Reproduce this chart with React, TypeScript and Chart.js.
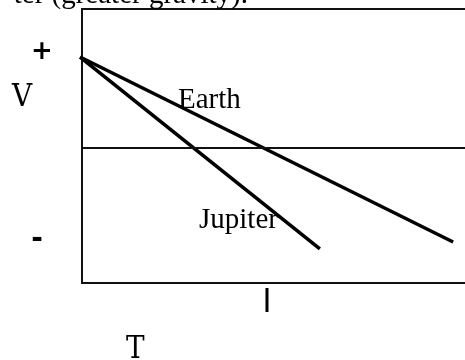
import React, { useEffect, useRef } from "react";
import { Chart, registerables } from "chart.js";

Chart.register(...registerables);

// Data (T on x, V on y)
const startPoint = { x: -0.05, y: 0.674 };
const earthEnd = { x: 9.69, y: -0.696 };
const jupiterEnd = { x: 6.21, y: -0.748 };
const zeroLine = [
  { x: 0, y: 0 },
  { x: 10.2, y: 0 },
];
const seriesNames = ["Earth", "Jupiter"];
const tickMarkX = 4.83;
const captionText = "ter (greater gravity).";

const labelsPlugin = {
  id: "labelsPlugin",
  beforeDatasetsDraw(chart: any) {
    const { ctx, chartArea } = chart;
    ctx.save();
    ctx.strokeStyle = "#111";
    ctx.lineWidth = 2;
    ctx.strokeRect(chartArea.left, chartArea.top, chartArea.right - chartArea.left + 10, chartArea.bottom - chartArea.top);
    ctx.restore();
  },
  afterDraw(chart: any) {
    const { ctx, chartArea, scales } = chart;
    const x = scales.x;
    ctx.save();
    ctx.fillStyle = "#000";
    ctx.textBaseline = "alphabetic";
    // caption at top (cut off)
    ctx.font = "29px 'Liberation Serif'";
    ctx.textAlign = "right";
    ctx.fillText(captionText, 248, 3);
    // series labels
    ctx.textAlign = "left";
    ctx.fillText(seriesNames[0], 178, 108);
    ctx.fillText(seriesNames[1], 199, 228);
    // axis labels
    ctx.font = "31px 'DejaVu Serif Condensed', 'DejaVu Serif'";
    ctx.fillText("V", 12, 106);
    ctx.fillText("T", 126, 358);
    ctx.font = "bold 26px 'DejaVu Sans'";
    ctx.textAlign = "center";
    ctx.fillText("+", 42, 59);
    ctx.font = "bold 28px 'DejaVu Sans'";
    ctx.fillText("-", 37, 247);
    // tick mark below axis
    const px = x.getPixelForValue(tickMarkX);
    ctx.strokeStyle = "#000";
    ctx.lineWidth = 3;
    ctx.beginPath();
    ctx.moveTo(px, chartArea.bottom + 5);
    ctx.lineTo(px, chartArea.bottom + 29);
    ctx.stroke();
    ctx.restore();
  },
};

export default function App() {
  const ref = useRef<HTMLCanvasElement>(null);
  useEffect(() => {
    if (!ref.current) return;
    const chart = new Chart(ref.current, {
      type: "scatter",
      data: {
        datasets: [
          {
            label: "zero",
            data: zeroLine,
            showLine: true,
            borderColor: "#111",
            borderWidth: 2,
            pointRadius: 0,
          },
          {
            label: seriesNames[0],
            data: [startPoint, earthEnd],
            showLine: true,
            borderColor: "#000",
            borderWidth: 3.5,
            pointRadius: 0,
          },
          {
            label: seriesNames[1],
            data: [startPoint, jupiterEnd],
            showLine: true,
            borderColor: "#000",
            borderWidth: 3.5,
            pointRadius: 0,
          },
        ],
      },
      options: {
        animation: false,
        responsive: false,
        devicePixelRatio: 1,
        layout: { padding: { left: 82, top: 9, right: 0, bottom: 77 } },
        plugins: { legend: { display: false }, tooltip: { enabled: false } },
        elements: { line: { tension: 0 } },
        clip: false as any,
        scales: {
          x: { type: "linear", display: false, min: 0, max: 10 },
          y: { type: "linear", display: false, min: -1, max: 1.03 },
        },
      },
      plugins: [labelsPlugin],
    });
    return () => chart.destroy();
  }, []);
  return (
    <div style={{ position: "absolute", left: 0, top: 0, width: 465, height: 360, background: "#fff" }}>
      <canvas ref={ref} width={465} height={360} />
    </div>
  );
}
